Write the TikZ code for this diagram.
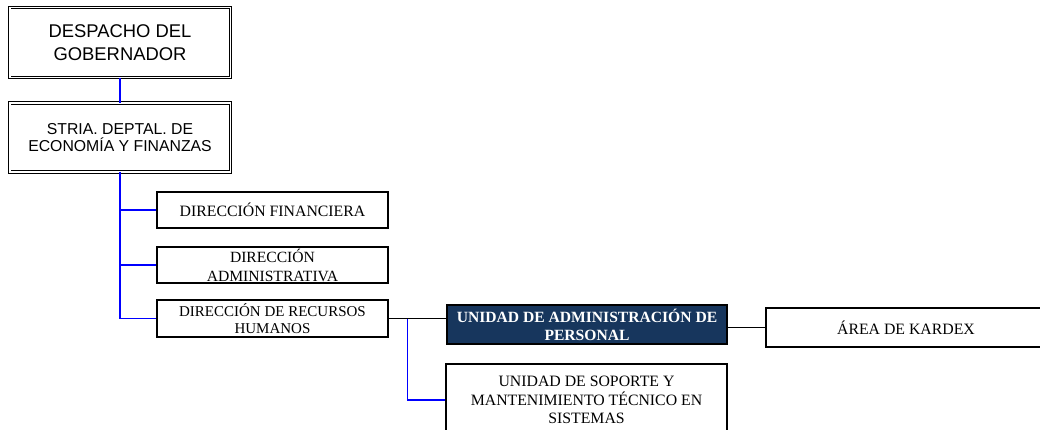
\documentclass[tikz,border=0pt]{standalone}
\usepackage{fontspec}
\setmainfont{Liberation Serif}
\newfontfamily\arialfont{Liberation Sans}
\usepackage{xcolor}
\usepackage{tikz}
\usetikzlibrary{positioning, calc}

\definecolor{navy}{HTML}{17365D}

\begin{document}
\begin{tikzpicture}[x=1pt, y=-1pt,
  topbox/.style={draw, double, line width=0.9pt, double distance=1.6pt, fill=white,
    minimum width=220.6pt, minimum height=70pt, inner sep=0pt, align=center,
    font=\arialfont\fontsize{18.4}{23}\selectfont},
  dirbox/.style={draw, line width=1.2pt, fill=white, minimum width=231pt,
    minimum height=36pt, inner sep=0pt, align=center,
    font=\fontsize{15}{16.5}\selectfont},
  unitbox/.style={draw, line width=1.2pt, fill=white, minimum width=280pt,
    minimum height=39pt, inner sep=0pt, align=center,
    font=\fontsize{15.8}{18.5}\selectfont},
  blueline/.style={blue, line width=1.4pt},
  blackline/.style={black, line width=1.6pt}]

  % Page frame
  \useasboundingbox (0,0) rectangle (1040,429);
  \clip (0,0) rectangle (1040,429);

  % Top boxes
  \node[topbox] (despacho) at (120,42.5) {DESPACHO DEL\\GOBERNADOR};
  \node[topbox, minimum height=69pt, font=\arialfont\fontsize{15.8}{17}\selectfont]
    (stria) at (120,137.5) {STRIA. DEPTAL. DE\\ECONOMÍA Y FINANZAS};

  % Directions
  \node[dirbox, font=\fontsize{15.8}{17}\selectfont] (fin) at (272.5,210) {DIRECCIÓN FINANCIERA};
  \node[dirbox, font=\fontsize{15.6}{19}\selectfont] (adm) at (272.5,265) {DIRECCIÓN\\ADMINISTRATIVA};
  \node[dirbox, minimum height=37pt] (rrhh) at (272.5,318.5) {DIRECCIÓN DE RECURSOS\\HUMANOS};

  % Units
  \node[unitbox, fill=navy, text=white, font=\bfseries\fontsize{15.6}{18}\selectfont]
    (uap) at (587,324.5) {UNIDAD DE ADMINISTRACIÓN DE\\PERSONAL};
  \node[unitbox, minimum width=281pt, minimum height=72pt] (soporte) at (586.5,400)
    {UNIDAD DE SOPORTE Y\\MANTENIMIENTO TÉCNICO EN\\SISTEMAS};
  \node[unitbox] (kardex) at (906,327.5) {ÁREA DE KARDEX};

  % Connectors
  \draw[blueline] (despacho.south) -- (stria.north);
  \draw[blueline] (stria.south) |- (rrhh.west);
  \draw[blueline] (stria.south |- fin.west) -- (fin.west);
  \draw[blueline] (stria.south |- adm.west) -- (adm.west);

  \coordinate (split) at ([xshift=19pt]rrhh.east);
  \draw[blackline] (rrhh.east) -- (rrhh.east -| uap.west);
  \draw[blueline] (split) |- (soporte.west);
  \draw[blackline] (kardex.west -| uap.east) -- (kardex.west);
\end{tikzpicture}
\end{document}
